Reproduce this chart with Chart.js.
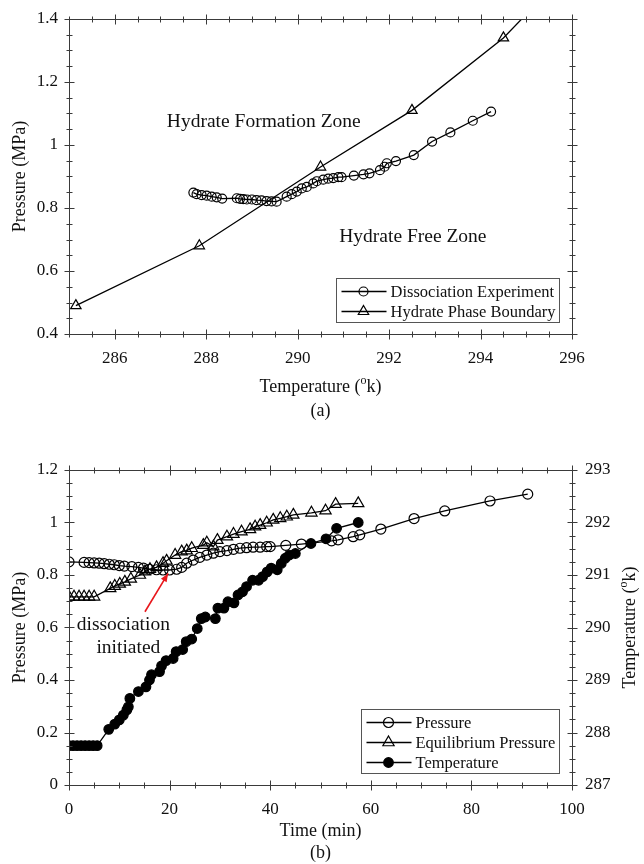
<!DOCTYPE html>
<html>
<head>
<meta charset="utf-8">
<script src="https://cdn.jsdelivr.net/npm/chart.js@4.4.0/dist/chart.umd.min.js"></script>
<style>
  html, body { margin: 0; padding: 0; background: #fff; }
  .box { position: relative; width: 644px; height: 432px; }
</style>
</head>
<body>
<div class="box"><canvas id="chartA"></canvas></div>
<div class="box"><canvas id="chartB"></canvas></div>
<script>
// (a) pressure against temperature
const dissTemp = [287.72, 287.79, 287.9, 288.01, 288.12, 288.23, 288.35,
  288.67, 288.74, 288.81, 288.89, 289.0, 289.1, 289.21, 289.32, 289.43, 289.54,
  289.76, 289.87, 289.98, 290.09, 290.2, 290.34, 290.42, 290.56, 290.67, 290.78, 290.89, 290.96,
  291.23, 291.44, 291.57, 291.8, 291.9, 291.95, 292.15, 292.54, 292.94, 293.34, 293.83, 294.23];
const dissPress = [0.849, 0.844, 0.841, 0.839, 0.836, 0.834, 0.83,
  0.831, 0.829, 0.828, 0.827, 0.827, 0.825, 0.824, 0.822, 0.821, 0.82,
  0.836, 0.844, 0.852, 0.862, 0.867, 0.878, 0.885, 0.89, 0.893, 0.895, 0.898, 0.898,
  0.903, 0.907, 0.91, 0.92, 0.931, 0.942, 0.949, 0.968, 1.011, 1.04, 1.077, 1.106];
const boundTemp = [285.15, 287.85, 290.5, 292.5, 294.5, 296.5];
const boundPress = [0.49, 0.68, 0.93, 1.11, 1.34, 1.64];

// (b) time series
const pressTime = [0, 3, 4, 5, 6, 7, 8, 9, 10, 11, 12.5, 13.8, 14.8, 16, 17.4, 18.7, 20, 21.4, 22.4,
  23.4, 24.7, 26, 27.4, 28.7, 30, 31.4, 32.7, 34, 35.3, 36.6, 38, 39.3, 40, 43.1, 46.2,
  52.2, 53.5, 56.5, 57.8, 62, 68.6, 74.7, 83.7, 91.2];
const pressVal = [0.85, 0.848, 0.847, 0.846, 0.845, 0.843, 0.841, 0.839, 0.836, 0.834, 0.832, 0.829, 0.826,
  0.822, 0.82, 0.819, 0.819, 0.822, 0.829, 0.845, 0.857, 0.867, 0.876, 0.883, 0.889, 0.893, 0.898,
  0.902, 0.904, 0.906, 0.906, 0.908, 0.908, 0.913, 0.918, 0.93, 0.934, 0.946, 0.953, 0.975, 1.015,
  1.044, 1.082, 1.108];
const eqTime = [0, 1, 2, 3, 4, 5, 8.2, 9.1, 10.1, 11.1, 12.3, 14.1, 15.1, 16.1, 17.4, 18.7, 19.4,
  21.1, 22.4, 23.4, 24.4, 26.7, 27.4, 28.7, 29.5, 31.4, 32.7, 34.3, 36, 37, 38, 39.3, 40.6, 42,
  43.3, 44.6, 48.2, 51, 53, 57.5];
const eqVal = [0.717, 0.717, 0.717, 0.717, 0.717, 0.717, 0.749, 0.758, 0.766, 0.774, 0.785, 0.8, 0.813,
  0.822, 0.829, 0.845, 0.854, 0.876, 0.889, 0.893, 0.902, 0.914, 0.923, 0.908, 0.933, 0.946, 0.956,
  0.965, 0.974, 0.984, 0.99, 0.999, 1.01, 1.016, 1.022, 1.029, 1.037, 1.045, 1.07, 1.073];
const tempTime = [0, 0.8, 1.6, 2.4, 3.2, 4, 4.8, 5.6, 7.9, 9.1, 10, 10.8, 11.5, 11.8, 12.1, 13.8, 15.3,
  16, 16.4, 18, 18.4, 19.3, 20.7, 21.3, 22.6, 23.3, 24.4, 25.5, 26.3, 27.1, 29.1, 29.6, 30.8, 31.6,
  32.8, 33.6, 34.5, 35.3, 36.5, 37.7, 38.5, 39.4, 40.2, 41.4, 42.2, 43, 43.8, 45, 48.1, 51.1, 53.2, 57.5];
const tempVal = [287.75, 287.75, 287.75, 287.75, 287.75, 287.75, 287.75, 287.75, 288.06, 288.16, 288.24,
  288.33, 288.43, 288.49, 288.65, 288.78, 288.87, 289.0, 289.1, 289.16, 289.27, 289.37, 289.41, 289.54,
  289.58, 289.73, 289.78, 289.98, 290.17, 290.2, 290.17, 290.37, 290.37, 290.49, 290.47, 290.62, 290.68,
  290.78, 290.9, 290.9, 290.97, 291.06, 291.13, 291.1, 291.22, 291.32, 291.38, 291.41, 291.6, 291.69,
  291.89, 292.0];

// tick labels
const tempTicksA = [286, 288, 290, 292, 294, 296];
const pressTicksA = [0.4, 0.6, 0.8, 1, 1.2, 1.4];
const timeTicksB = [0, 20, 40, 60, 80, 100];
const pressTicksB = [0, 0.2, 0.4, 0.6, 0.8, 1, 1.2];
const tempTicksB = [287, 288, 289, 290, 291, 292, 293];

const INK = '#111';
const FRAME = '#3a3a3a';
const SERIF = "'Liberation Serif', 'Times New Roman', serif";
Chart.defaults.font.family = SERIF;
Chart.defaults.font.size = 17;
Chart.defaults.color = INK;

function pts(xs, ys) { return xs.map((x, i) => ({x: x, y: ys[i]})); }
function inList(list, v) { return list.some(m => Math.abs(m - v) < 1e-6); }
function font(size) { return size + 'px ' + SERIF; }
function noPad(s) { s.paddingTop = 0; s.paddingBottom = 0; s.paddingLeft = 0; s.paddingRight = 0; }

function frameTicks(chart, specs) {
  const ctx = chart.ctx, a = chart.chartArea;
  ctx.save();
  ctx.strokeStyle = FRAME;
  ctx.lineWidth = 1;
  ctx.strokeRect(Math.round(a.left) + 0.5, Math.round(a.top) + 0.5,
    Math.round(a.right - a.left), Math.round(a.bottom - a.top));
  specs.forEach(s => {
    const sc = chart.scales[s.id];
    const n = Math.round((sc.max - sc.min) / s.step);
    for (let i = 0; i <= n; i++) {
      const v = sc.min + i * s.step;
      const p = Math.round(sc.getPixelForValue(v)) + 0.5;
      const len = inList(s.majors, v) ? 5 : 3;
      s.at.forEach(side => {
        ctx.beginPath();
        if (side === 'top' || side === 'bottom') {
          const y = Math.round(a[side]) + 0.5;
          ctx.moveTo(p, y - len); ctx.lineTo(p, y + len);
        } else {
          const x = Math.round(a[side]) + 0.5;
          ctx.moveTo(x - len, p); ctx.lineTo(x + len, p);
        }
        ctx.stroke();
      });
    }
  });
  ctx.restore();
}

function tempTitle(ctx, x, y, rotate) {
  ctx.save();
  ctx.translate(x, y);
  if (rotate) ctx.rotate(-Math.PI / 2);
  ctx.fillStyle = INK;
  ctx.textAlign = 'left';
  ctx.textBaseline = 'middle';
  ctx.font = font(18);
  const w1 = ctx.measureText('Temperature (').width;
  const w3 = ctx.measureText('k)').width;
  ctx.font = font(12);
  const w2 = ctx.measureText('o').width;
  let cx = -(w1 + w2 + w3) / 2;
  ctx.font = font(18); ctx.fillText('Temperature (', cx, 0); cx += w1;
  ctx.font = font(12); ctx.fillText('o', cx, -6); cx += w2;
  ctx.font = font(18); ctx.fillText('k)', cx, 0);
  ctx.restore();
}

function centerText(ctx, text, x, y, size) {
  ctx.save();
  ctx.fillStyle = INK;
  ctx.font = font(size);
  ctx.textAlign = 'center';
  ctx.textBaseline = 'middle';
  ctx.fillText(text, x, y);
  ctx.restore();
}

function legendBox(chart, w, h) {
  const ctx = chart.ctx, a = chart.chartArea;
  const left = Math.round(a.right - 13 - w) + 0.5, top = Math.round(a.bottom - 12 - h) + 0.5;
  ctx.save();
  ctx.fillStyle = '#fff';
  ctx.fillRect(left, top, w, h);
  ctx.strokeStyle = '#555';
  ctx.lineWidth = 1;
  ctx.strokeRect(left, top, w, h);
  chart.data.datasets.forEach((ds, i) => {
    const y = top + 13 + i * 20;
    ctx.strokeStyle = ds.borderColor;
    ctx.lineWidth = ds.borderWidth;
    ctx.beginPath();
    ctx.moveTo(left + 5, y); ctx.lineTo(left + 50, y);
    ctx.stroke();
    ctx.fillStyle = ds.pointBackgroundColor;
    ctx.strokeStyle = ds.pointBorderColor;
    ctx.lineWidth = ds.pointBorderWidth;
    Chart.helpers.drawPoint(ctx, {pointStyle: ds.pointStyle, radius: ds.pointRadius,
      borderWidth: ds.pointBorderWidth, rotation: 0}, left + 27, y);
    ctx.fillStyle = INK;
    ctx.font = font(16.5);
    ctx.textAlign = 'left';
    ctx.textBaseline = 'middle';
    ctx.fillText(ds.label, left + 54, y + 1);
  });
  ctx.restore();
}

function series(label, data, style, fill, r, extra) {
  return Object.assign({
    label: label, data: data, showLine: true,
    borderColor: '#000', borderWidth: 1.3,
    pointStyle: style, pointRadius: r, pointHoverRadius: r,
    pointBorderColor: '#000', pointBackgroundColor: fill, pointBorderWidth: 1.2
  }, extra || {});
}

const decorA = {
  id: 'decorA',
  afterDraw(chart) {
    const ctx = chart.ctx, x = chart.scales.x, y = chart.scales.y;
    frameTicks(chart, [
      {id: 'x', step: 0.5, majors: tempTicksA, at: ['top', 'bottom']},
      {id: 'y', step: 0.05, majors: pressTicksA, at: ['left', 'right']}
    ]);
    centerText(ctx, 'Hydrate Formation Zone', x.getPixelForValue(289.26), y.getPixelForValue(1.073), 19.5);
    centerText(ctx, 'Hydrate Free Zone', x.getPixelForValue(292.52), y.getPixelForValue(0.708), 19.5);
    const mid = (chart.chartArea.left + chart.chartArea.right) / 2;
    tempTitle(ctx, mid, 387, false);
    centerText(ctx, '(a)', mid, 411, 18);
    legendBox(chart, 223, 44);
  }
};

const decorB = {
  id: 'decorB',
  afterDraw(chart) {
    const ctx = chart.ctx, x = chart.scales.x, y = chart.scales.y, a = chart.chartArea;
    frameTicks(chart, [
      {id: 'x', step: 5, majors: timeTicksB, at: ['top', 'bottom']},
      {id: 'y', step: 0.05, majors: pressTicksB, at: ['left']},
      {id: 'y1', step: 0.25, majors: tempTicksB, at: ['right']}
    ]);
    // annotation
    const x1 = x.getPixelForValue(15.1), y1 = y.getPixelForValue(0.66);
    const x2 = x.getPixelForValue(19.7), y2 = y.getPixelForValue(0.806);
    ctx.save();
    ctx.strokeStyle = '#e8161b';
    ctx.fillStyle = '#e8161b';
    ctx.lineWidth = 1.6;
    ctx.beginPath(); ctx.moveTo(x1, y1); ctx.lineTo(x2, y2); ctx.stroke();
    const ang = Math.atan2(y2 - y1, x2 - x1);
    ctx.beginPath();
    ctx.moveTo(x2, y2);
    ctx.lineTo(x2 - 9 * Math.cos(ang - 0.38), y2 - 9 * Math.sin(ang - 0.38));
    ctx.lineTo(x2 - 9 * Math.cos(ang + 0.38), y2 - 9 * Math.sin(ang + 0.38));
    ctx.closePath(); ctx.fill();
    ctx.restore();
    centerText(ctx, 'dissociation', x.getPixelForValue(10.8), y.getPixelForValue(0.61), 19.5);
    centerText(ctx, 'initiated', x.getPixelForValue(11.8), y.getPixelForValue(0.522), 19.5);
    tempTitle(ctx, 630, (a.top + a.bottom) / 2, true);
    centerText(ctx, '(b)', (a.left + a.right) / 2, 421, 18);
    legendBox(chart, 198, 64);
  }
};

new Chart(document.getElementById('chartA'), {
  type: 'scatter',
  data: {
    datasets: [
      series('Dissociation Experiment', pts(dissTemp, dissPress), 'circle', 'rgba(0,0,0,0)', 4.5),
      series('Hydrate Phase Boundary', pts(boundTemp, boundPress), 'triangle', 'rgba(0,0,0,0)', 6)
    ]
  },
  options: {
    responsive: true, maintainAspectRatio: false, animation: false, devicePixelRatio: 1,
    layout: {padding: {top: 19, right: 72, bottom: 0, left: 0}},
    plugins: {legend: {display: false}, tooltip: {enabled: false}},
    scales: {
      x: {
        type: 'linear', min: 285, max: 296,
        grid: {display: false, drawTicks: false}, border: {display: false},
        ticks: {stepSize: 0.5, autoSkip: false, maxRotation: 0, padding: 14,
          callback: v => inList(tempTicksA, v) ? String(Math.round(v)) : ''},
        afterFit: s => { s.height = 98; noPad(s); }
      },
      y: {
        min: 0.4, max: 1.4,
        grid: {display: false, drawTicks: false}, border: {display: false},
        ticks: {stepSize: 0.05, autoSkip: false, padding: 11,
          callback: v => inList(pressTicksA, v) ? String(Math.round(v * 10) / 10) : ''},
        title: {display: true, text: 'Pressure (MPa)', font: {size: 18}, padding: {top: 9, bottom: 0}},
        afterFit: s => { s.width = 69; noPad(s); }
      }
    }
  },
  plugins: [decorA]
});

new Chart(document.getElementById('chartB'), {
  type: 'scatter',
  data: {
    datasets: [
      series('Pressure', pts(pressTime, pressVal), 'circle', 'rgba(0,0,0,0)', 5),
      series('Equilibrium Pressure', pts(eqTime, eqVal), 'triangle', 'rgba(0,0,0,0)', 6.5),
      series('Temperature', pts(tempTime, tempVal), 'circle', '#000', 4.8, {yAxisID: 'y1'})
    ]
  },
  options: {
    responsive: true, maintainAspectRatio: false, animation: false, devicePixelRatio: 1,
    layout: {padding: {top: 38, right: 0, bottom: 0, left: 0}},
    plugins: {legend: {display: false}, tooltip: {enabled: false}},
    scales: {
      x: {
        type: 'linear', min: 0, max: 100,
        grid: {display: false, drawTicks: false}, border: {display: false},
        ticks: {stepSize: 5, autoSkip: false, maxRotation: 0, padding: 14,
          callback: v => inList(timeTicksB, v) ? String(Math.round(v)) : ''},
        title: {display: true, text: 'Time (min)', font: {size: 18}, padding: {top: 0, bottom: 21.5}},
        afterFit: s => { s.height = 79; noPad(s); }
      },
      y: {
        position: 'left', min: 0, max: 1.2,
        grid: {display: false, drawTicks: false}, border: {display: false},
        ticks: {stepSize: 0.05, autoSkip: false, padding: 11,
          callback: v => inList(pressTicksB, v) ? String(Math.round(v * 10) / 10) : ''},
        title: {display: true, text: 'Pressure (MPa)', font: {size: 18}, padding: {top: 9, bottom: 0}},
        afterFit: s => { s.width = 69; noPad(s); }
      },
      y1: {
        position: 'right', min: 287, max: 293,
        grid: {display: false, drawTicks: false}, border: {display: false},
        ticks: {stepSize: 0.25, autoSkip: false, padding: 13,
          callback: v => inList(tempTicksB, v) ? String(Math.round(v)) : ''},
        afterFit: s => { s.width = 72; noPad(s); }
      }
    }
  },
  plugins: [decorB]
});
</script>
</body>
</html>
